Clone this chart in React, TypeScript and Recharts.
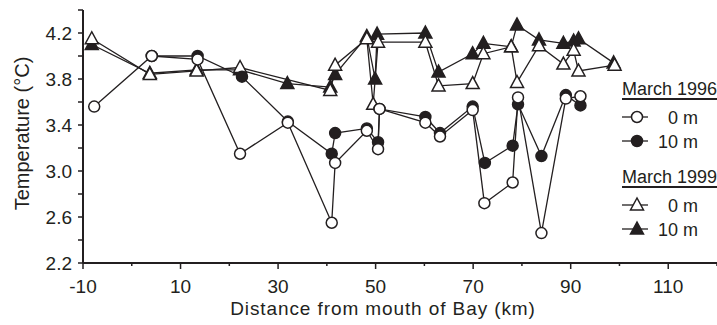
import { LineChart, Line, XAxis, YAxis, Legend } from 'recharts';

const INK = '#231f20';
const FONT = '"Liberation Sans", Arial, Helvetica, sans-serif';

// March 1996, surface (0 m)
const km96Surface = [-7.7, 4.1, 13.5, 22.2, 32, 41, 41.7, 48.2, 50.5, 50.8, 60.2, 63.2, 69.9, 72.3, 78.1, 79.2, 84, 89, 92];
const temp96Surface = [3.56, 4.0, 3.97, 3.15, 3.42, 2.55, 3.07, 3.35, 3.19, 3.54, 3.42, 3.3, 3.53, 2.72, 2.9, 3.64, 2.46, 3.63, 3.65];

// March 1996, 10 m
const km96Deep = [4.1, 13.5, 22.6, 32, 41, 41.7, 48.2, 50.5, 50.8, 60.2, 63.2, 69.9, 72.4, 78.1, 79.2, 84, 89, 92];
const temp96Deep = [4.0, 4.0, 3.82, 3.43, 3.15, 3.33, 3.37, 3.25, 3.54, 3.47, 3.33, 3.56, 3.07, 3.22, 3.58, 3.13, 3.66, 3.57];

// March 1999, surface (0 m)
const km99Surface = [-8.2, 3.7, 13.3, 22.2, 40.7, 41.7, 48.2, 49.5, 50.5, 60.2, 62.9, 69.9, 72.1, 77.8, 79, 83.5, 88.5, 90.6, 91.6, 99];
const temp99Surface = [4.15, 3.84, 3.87, 3.9, 3.7, 3.92, 4.15, 3.58, 4.12, 4.12, 3.74, 3.76, 4.02, 4.08, 3.77, 4.09, 3.93, 4.05, 3.87, 3.92];

// March 1999, 10 m
const km99Deep = [-8.2, 3.7, 13.3, 22.2, 31.9, 40.7, 41.7, 48.2, 49.9, 50.3, 60.2, 62.9, 69.9, 72.1, 77.8, 79, 83.5, 88.5, 90.6, 91.6, 98.8];
const temp99Deep = [4.1, 3.85, 3.88, 3.88, 3.76, 3.73, 3.84, 4.17, 3.8, 4.19, 4.2, 3.86, 4.02, 4.11, 4.08, 4.27, 4.14, 4.11, 4.13, 4.15, 3.94];

const xTicks = [-10, 0, 10, 20, 30, 40, 50, 60, 70, 80, 90, 100, 110, 120];
const xLabels = [-10, 10, 30, 50, 70, 90, 110];
const yTicks = [2.2, 2.4, 2.6, 2.8, 3.0, 3.2, 3.4, 3.6, 3.8, 4.0, 4.2, 4.4];
const yLabels = [2.2, 2.6, 3.0, 3.4, 3.8, 4.2];

const toRows = (km: number[], temp: number[]) => km.map((k, i) => ({ km: k, temp: temp[i] }));

type Shape = 'openCircle' | 'filledCircle' | 'openTriangle' | 'filledTriangle';

function Marker({ cx, cy, shape }: { cx: number; cy: number; shape: Shape }) {
  const fill = shape.startsWith('open') ? '#fff' : INK;
  if (shape.endsWith('Circle')) {
    return <circle cx={cx} cy={cy} r={5.5} fill={fill} stroke={INK} strokeWidth={1.5} />;
  }
  const pts = `${cx},${cy - 7} ${cx - 6.5},${cy + 5} ${cx + 6.5},${cy + 5}`;
  return <polygon points={pts} fill={fill} stroke={INK} strokeWidth={1.5} strokeLinejoin="miter" />;
}

const dotFor = (shape: Shape) => (props: any) =>
  <Marker key={`${shape}-${props.index}`} cx={props.cx} cy={props.cy} shape={shape} />;

function XTick({ x, y, payload }: any) {
  const major = xLabels.includes(payload.value);
  return (
    <g>
      <line x1={x} x2={x} y1={y} y2={y + (major ? 6 : 3)} stroke={INK} strokeWidth={1.5} />
      {major && (
        <text x={x} y={y + 30} textAnchor="middle" fontSize={19} fill={INK} fontFamily={FONT}>
          {payload.value}
        </text>
      )}
    </g>
  );
}

function YTick({ x, y, payload }: any) {
  const major = yLabels.includes(payload.value);
  return (
    <g>
      <line x1={x - 5} x2={x} y1={y} y2={y} stroke={INK} strokeWidth={1.5} />
      {major && (
        <text x={x - 11} y={y + 7} textAnchor="end" fontSize={19} fill={INK} fontFamily={FONT}>
          {payload.value.toFixed(1)}
        </text>
      )}
    </g>
  );
}

function XTitle({ viewBox }: any) {
  return (
    <text
      x={viewBox.x + viewBox.width / 2 - 17}
      y={viewBox.y + 52}
      textAnchor="middle"
      fontSize={19}
      letterSpacing={0.9}
      fill={INK}
      fontFamily={FONT}
    >
      Distance from mouth of Bay (km)
    </text>
  );
}

function YTitle({ viewBox }: any) {
  return (
    <text
      transform={`translate(22, ${viewBox.y + viewBox.height / 2 - 3}) rotate(-90)`}
      textAnchor="middle"
      dominantBaseline="central"
      fontSize={20}
      fill={INK}
      fontFamily={FONT}
    >
      Temperature (°C)
    </text>
  );
}

const legendGroups = [
  { title: 'March 1996', rows: [{ label: '0 m', shape: 'openCircle' as Shape }, { label: '10 m', shape: 'filledCircle' as Shape }] },
  { title: 'March 1999', rows: [{ label: '0 m', shape: 'openTriangle' as Shape }, { label: '10 m', shape: 'filledTriangle' as Shape }] },
];

function LegendBox() {
  return (
    <svg width={96} height={165} style={{ overflow: 'visible' }}>
      {legendGroups.map((g, gi) => {
        const top = gi * 88;
        return (
          <g key={g.title} fontFamily={FONT} fill={INK} fontSize={18}>
            <text x={0} y={top + 20}>{g.title}</text>
            <line x1={0} x2={95} y1={top + 24} y2={top + 24} stroke={INK} strokeWidth={2} />
            {g.rows.map((r, ri) => {
              const cy = top + 42 + ri * 24;
              return (
                <g key={r.label}>
                  <line x1={0} x2={26} y1={cy} y2={cy} stroke={INK} strokeWidth={1.3} />
                  <Marker cx={15} cy={cy} shape={r.shape} />
                  <text x={76} y={cy + 6.5} textAnchor="end">{r.label}</text>
                </g>
              );
            })}
          </g>
        );
      })}
    </svg>
  );
}

export default function App() {
  return (
    <div style={{ position: 'absolute', left: 0, top: 0, background: '#fff' }}>
      <LineChart width={717} height={325} margin={{ top: 10, right: 0, left: 0, bottom: 0 }}>
        <XAxis
          dataKey="km"
          type="number"
          domain={[-10, 120]}
          ticks={xTicks}
          interval={0}
          tickSize={0}
          tickMargin={0}
          tickLine={false}
          tick={<XTick />}
          axisLine={{ stroke: INK, strokeWidth: 2 }}
          height={62}
          allowDataOverflow
          label={<XTitle />}
        />
        <YAxis
          type="number"
          domain={[2.2, 4.4]}
          ticks={yTicks}
          interval={0}
          tickSize={0}
          tickMargin={0}
          tickLine={false}
          tick={<YTick />}
          axisLine={{ stroke: INK, strokeWidth: 2 }}
          width={83}
          allowDataOverflow
          label={<YTitle />}
        />
        <Legend
          layout="vertical"
          align="center"
          verticalAlign="middle"
          content={<LegendBox />}
          wrapperStyle={{ left: 622, top: 75, width: 96, height: 165 }}
        />
        <Line data={toRows(km99Deep, temp99Deep)} dataKey="temp" stroke={INK} strokeWidth={1.3} dot={dotFor('filledTriangle')} activeDot={false} isAnimationActive={false} />
        <Line data={toRows(km99Surface, temp99Surface)} dataKey="temp" stroke={INK} strokeWidth={1.3} dot={dotFor('openTriangle')} activeDot={false} isAnimationActive={false} />
        <Line data={toRows(km96Deep, temp96Deep)} dataKey="temp" stroke={INK} strokeWidth={1.3} dot={dotFor('filledCircle')} activeDot={false} isAnimationActive={false} />
        <Line data={toRows(km96Surface, temp96Surface)} dataKey="temp" stroke={INK} strokeWidth={1.3} dot={dotFor('openCircle')} activeDot={false} isAnimationActive={false} />
      </LineChart>
    </div>
  );
}
